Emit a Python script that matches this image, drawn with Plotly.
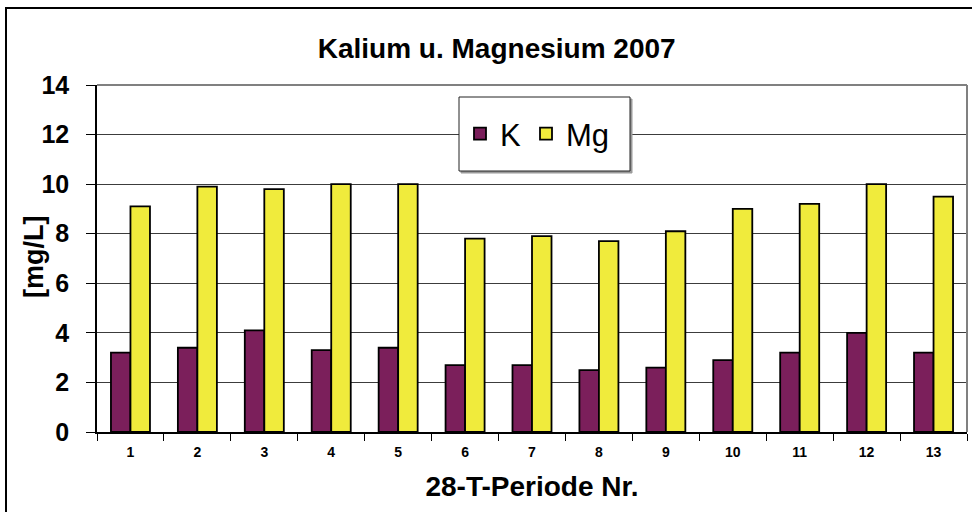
import plotly.graph_objects as go

# Potassium and magnesium concentrations per 28-day period, 2007
periods = [str(i) for i in range(1, 14)]
kalium = [3.2, 3.4, 4.1, 3.3, 3.4, 2.7, 2.7, 2.5, 2.6, 2.9, 3.2, 4.0, 3.2]
magnesium = [9.1, 9.9, 9.8, 10.0, 10.0, 7.8, 7.9, 7.7, 8.1, 9.0, 9.2, 10.0, 9.5]
y_ticks = [0, 2, 4, 6, 8, 10, 12, 14]

FONT = "Liberation Sans, Arial, sans-serif"
K_COLOR = "#7B1F5B"
MG_COLOR = "#F0EB3C"

fig = go.Figure()
fig.add_trace(go.Bar(
    x=periods, y=kalium, name="K",
    marker=dict(color=K_COLOR, line=dict(color="black", width=1.8)),
))
fig.add_trace(go.Bar(
    x=periods, y=magnesium, name="Mg",
    marker=dict(color=MG_COLOR, line=dict(color="black", width=1.8)),
))

# pixel -> paper helpers for the fixed 972x512 canvas
W, H = 972, 512
L, R, T, B = 97, 5, 85, 80
PW, PH = W - L - R, H - T - B


def px(x):
    return (x - L) / PW


def py(y):
    return (H - B - y) / PH


shapes = [
    # outer chart frame
    dict(type="rect", xref="paper", yref="paper",
         x0=px(6), x1=px(990), y0=py(8), y1=py(530),
         line=dict(color="black", width=2), fillcolor="rgba(0,0,0,0)", layer="above"),
    # plot area top and right edges
    dict(type="line", xref="paper", yref="paper", x0=0, x1=1, y0=1, y1=1,
         line=dict(color="#808080", width=2), layer="above"),
    dict(type="line", xref="paper", yref="paper", x0=1, x1=1, y0=0, y1=1,
         line=dict(color="#808080", width=2), layer="above"),
    # legend frame (shadow + box)
    dict(type="rect", xref="paper", yref="paper",
         x0=px(461), x1=px(632), y0=py(173), y1=py(99),
         line=dict(color="#9a9a9a", width=1), fillcolor="#9a9a9a", layer="above"),
    dict(type="rect", xref="paper", yref="paper",
         x0=px(459), x1=px(630), y0=py(171), y1=py(97),
         line=dict(color="#222222", width=1), fillcolor="white", layer="above"),
]

annotations = [
    # y-axis unit label
    dict(text="<b>[mg/L]</b>", xref="paper", yref="paper", x=px(34), y=py(257),
         xanchor="center", yanchor="middle", textangle=-90, showarrow=False,
         font=dict(size=27, family=FONT, color="black")),
]

fig.update_layout(
    width=W, height=H,
    margin=dict(l=L, r=R, t=T, b=B, pad=0),
    paper_bgcolor="white", plot_bgcolor="white",
    font=dict(family=FONT, color="black"),
    barmode="group", bargap=0.417, bargroupgap=0,
    title=dict(text="<b>Kalium u. Magnesium 2007</b>", x=0.511, xanchor="center",
               y=1 - 48 / H, yanchor="middle", font=dict(size=28, family=FONT)),
    showlegend=True,
    legend=dict(orientation="h", x=px(460), xanchor="left", y=py(134), yanchor="middle",
                bgcolor="rgba(0,0,0,0)", borderwidth=0, font=dict(size=31, family=FONT),
                itemclick=False, traceorder="normal"),
    shapes=shapes,
    annotations=annotations,
)

fig.update_xaxes(
    type="category", tickson="boundaries",
    ticks="outside", ticklen=7, tickwidth=1, tickcolor="black",
    showline=True, linecolor="black", linewidth=2,
    showgrid=False,
    tickfont=dict(size=14, family=FONT),
    tickprefix="<b>", ticksuffix="</b>",
    ticklabelstandoff=6,
    title=dict(text="<b>28-T-Periode Nr.</b>", font=dict(size=28, family=FONT), standoff=18),
)
fig.update_yaxes(
    range=[0, 14], tickvals=y_ticks, ticktext=[f"<b>{v}</b>" for v in y_ticks],
    ticks="outside", ticklen=9, tickwidth=1, tickcolor="black",
    showline=True, linecolor="black", linewidth=1.5,
    showgrid=True, gridcolor="#3c3c3c", gridwidth=1,
    zeroline=False,
    tickfont=dict(size=25, family=FONT),
    ticklabelstandoff=12,
)

fig.write_html("out.html")
